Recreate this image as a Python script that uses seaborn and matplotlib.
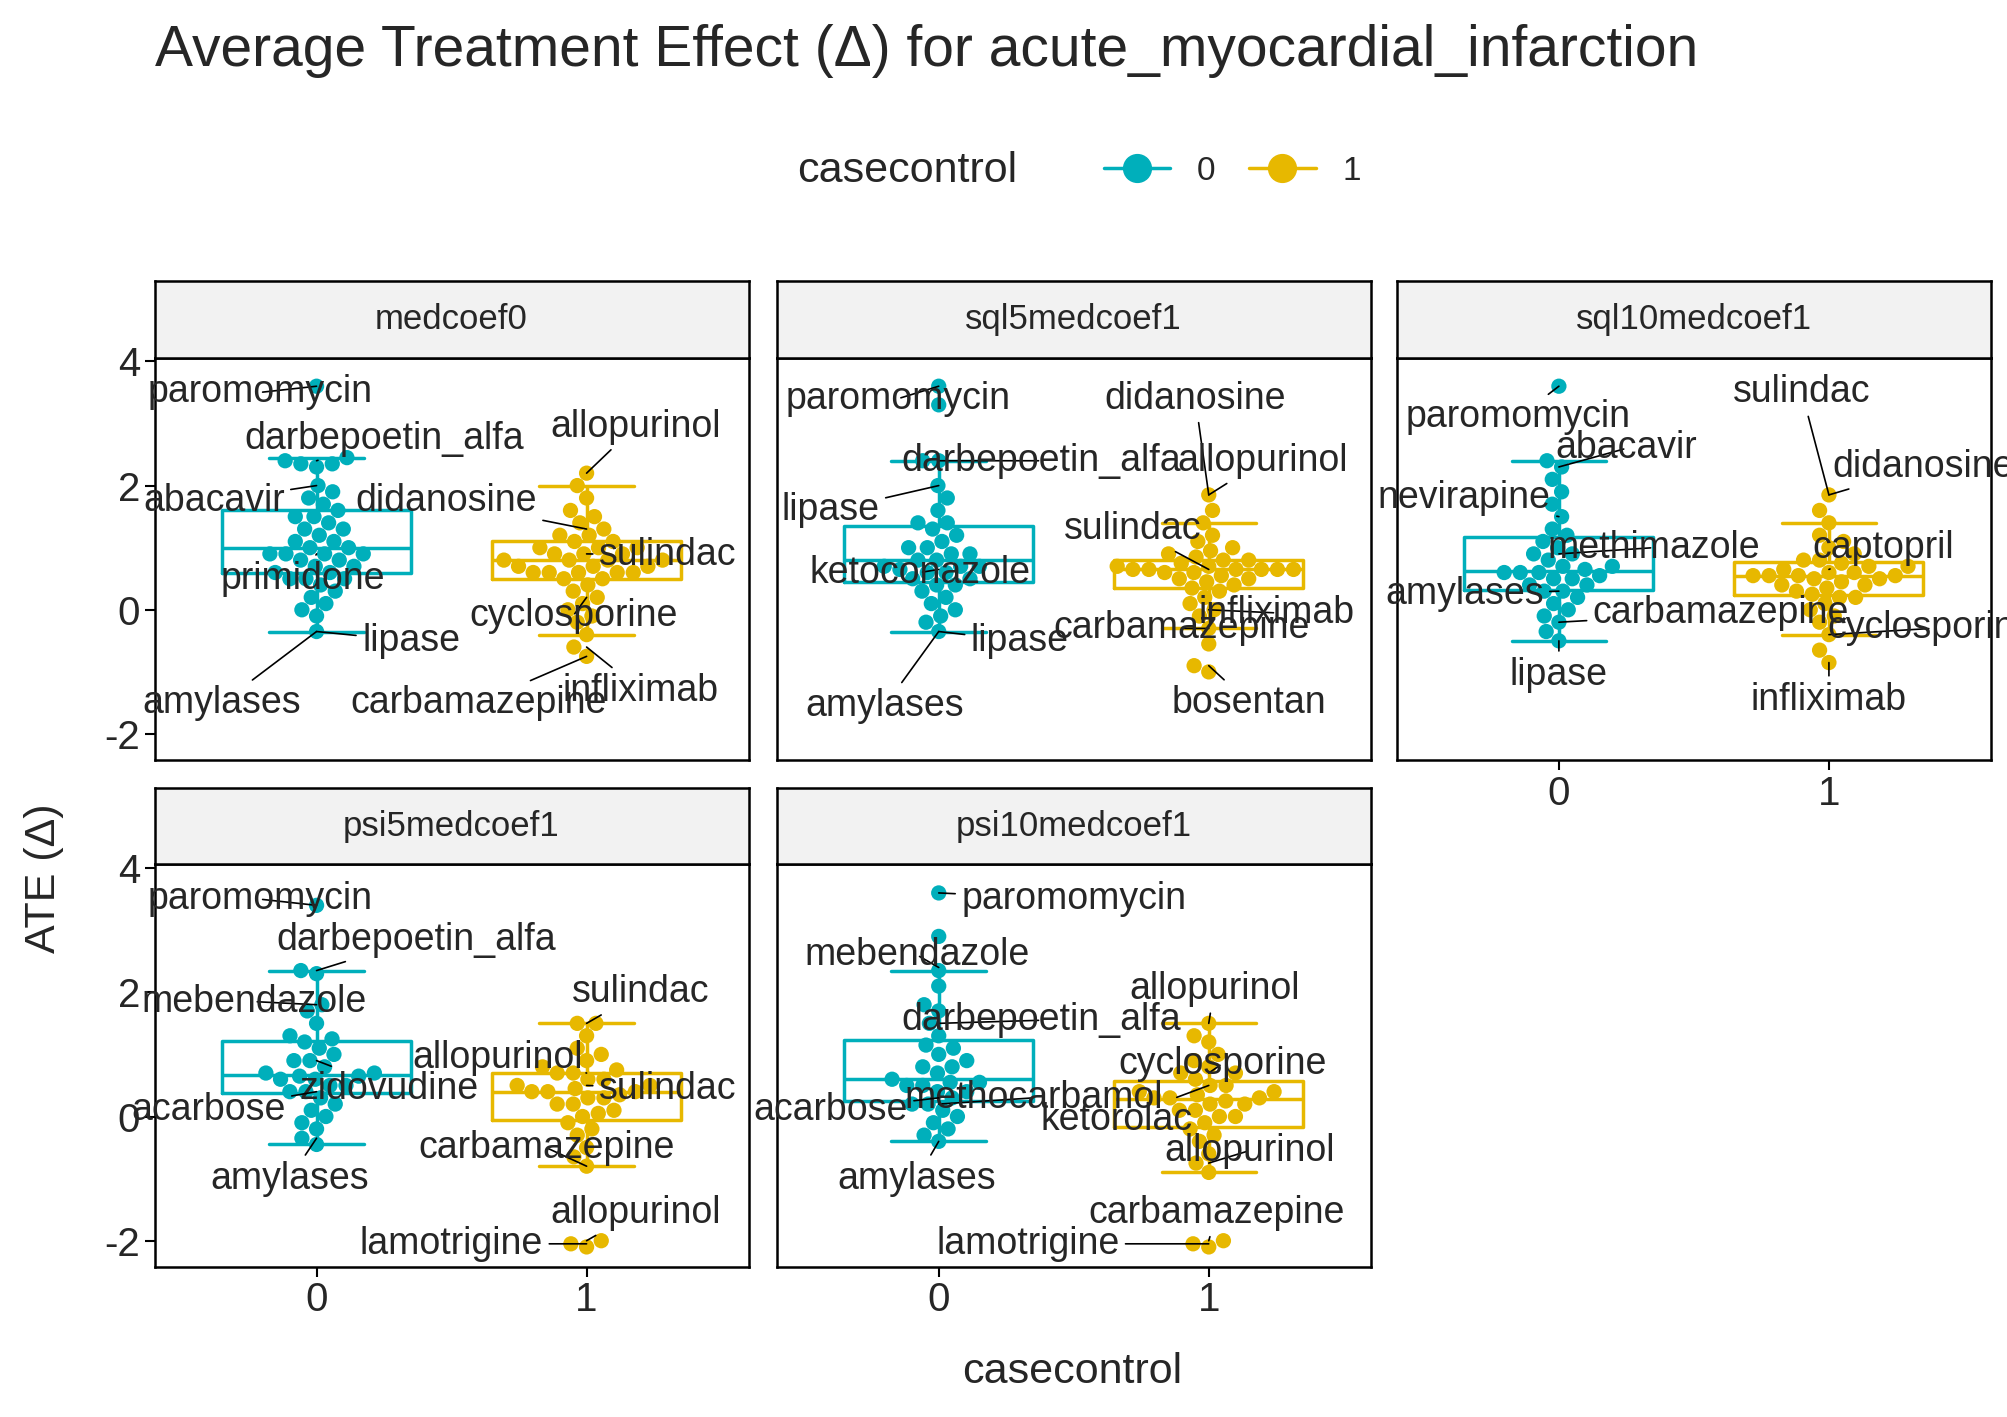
import pandas as pd
import matplotlib
matplotlib.use("Agg")
import matplotlib.pyplot as plt
import seaborn as sns
from matplotlib.lines import Line2D

sns.set_theme(style="white")
plt.rcParams['font.family'] = ['Liberation Sans', 'DejaVu Sans']
plt.rcParams['axes.unicode_minus'] = False

panels = ["medcoef0", "sql5medcoef1", "sql10medcoef1", "psi5medcoef1", "psi10medcoef1"]

# ATE values, per panel: (casecontrol 0, casecontrol 1)
m0_0 = [3.6, 2.45, 2.4, 2.35, 2.35, 2.3, 2.0, 1.9, 1.8, 1.7, 1.6, 1.5, 1.5, 1.4, 1.3, 1.3, 1.2, 1.1, 1.1, 1.0,
        1.0, 0.9, 0.9, 0.9, 0.9, 0.8, 0.8, 0.7, 0.7, 0.6, 0.6, 0.5, 0.5, 0.5, 0.4, 0.3, 0.2, 0.1, 0.0, -0.1, -0.35]
m0_1 = [2.2, 2.0, 1.8, 1.6, 1.5, 1.4, 1.3, 1.2, 1.2, 1.1, 1.1, 1.0, 1.0, 1.0, 0.9, 0.9, 0.9, 0.8, 0.8, 0.8, 0.8,
        0.7, 0.7, 0.7, 0.6, 0.6, 0.6, 0.6, 0.6, 0.5, 0.5, 0.4, 0.3, 0.2, 0.1, 0.0, -0.1, -0.2, -0.4, -0.6, -0.75]
s5_0 = [3.6, 3.3, 2.4, 2.4, 2.0, 1.8, 1.6, 1.4, 1.4, 1.3, 1.2, 1.1, 1.0, 1.0, 0.9, 0.9, 0.8, 0.8, 0.7, 0.7, 0.7,
        0.65, 0.6, 0.6, 0.5, 0.5, 0.4, 0.4, 0.3, 0.2, 0.1, 0.0, -0.1, -0.2, -0.35]
s5_1 = [1.85, 1.6, 1.4, 1.2, 1.1, 1.0, 0.95, 0.9, 0.85, 0.8, 0.8, 0.75, 0.7, 0.7, 0.65, 0.65, 0.65, 0.65, 0.65, 0.65,
        0.6, 0.6, 0.55, 0.5, 0.5, 0.45, 0.4, 0.35, 0.3, 0.2, 0.1, 0.0, -0.1, -0.3, -0.55, -0.9, -1.0]
s10_0 = [3.6, 2.4, 2.3, 2.1, 1.9, 1.7, 1.5, 1.3, 1.2, 1.1, 1.0, 0.9, 0.9, 0.8, 0.7, 0.7, 0.65, 0.6, 0.6, 0.6, 0.55,
         0.5, 0.5, 0.4, 0.4, 0.3, 0.3, 0.2, 0.1, 0.0, -0.1, -0.2, -0.35, -0.5]
s10_1 = [1.85, 1.6, 1.4, 1.2, 1.1, 1.0, 0.9, 0.8, 0.8, 0.75, 0.7, 0.7, 0.65, 0.6, 0.6, 0.55, 0.55, 0.55, 0.55, 0.5,
         0.5, 0.45, 0.4, 0.4, 0.35, 0.3, 0.25, 0.2, 0.2, 0.1, 0.0, -0.1, -0.2, -0.4, -0.65, -0.85]
p5_0 = [3.4, 2.35, 2.3, 1.8, 1.7, 1.5, 1.3, 1.25, 1.2, 1.1, 1.0, 0.9, 0.9, 0.8, 0.7, 0.7, 0.65, 0.65, 0.6, 0.6,
        0.5, 0.5, 0.4, 0.4, 0.3, 0.2, 0.1, 0.0, -0.1, -0.2, -0.35, -0.45]
p5_1 = [1.5, 1.5, 1.3, 1.1, 1.0, 0.9, 0.8, 0.75, 0.7, 0.7, 0.6, 0.6, 0.5, 0.5, 0.45, 0.4, 0.4, 0.4, 0.35, 0.3, 0.3,
        0.2, 0.2, 0.1, 0.05, 0.0, -0.1, -0.2, -0.3, -0.5, -0.65, -0.8, -2.0, -2.05, -2.1]
p10_0 = [3.6, 2.9, 2.35, 2.1, 1.8, 1.7, 1.5, 1.3, 1.15, 1.1, 1.0, 0.9, 0.8, 0.8, 0.7, 0.6, 0.55, 0.55, 0.5, 0.5,
         0.4, 0.4, 0.3, 0.2, 0.2, 0.1, 0.0, -0.1, -0.2, -0.3, -0.4]
p10_1 = [1.5, 1.3, 1.2, 1.0, 0.9, 0.8, 0.7, 0.7, 0.6, 0.5, 0.5, 0.4, 0.4, 0.35, 0.3, 0.3, 0.3, 0.25, 0.2, 0.2, 0.1,
         0.1, 0.0, 0.0, -0.1, -0.2, -0.3, -0.4, -0.6, -0.75, -0.9, -2.0, -2.05, -2.1]
values = [(m0_0, m0_1), (s5_0, s5_1), (s10_0, s10_1), (p5_0, p5_1), (p10_0, p10_1)]

# labels: (drug, group, value of labelled point, text x, text y)
labels = [
    [("paromomycin", 0, 3.6, -0.21, 3.5), ("darbepoetin_alfa", 0, 2.4, 0.25, 2.75), ("allopurinol", 1, 2.2, 1.18, 2.95),
     ("abacavir", 0, 2.0, -0.38, 1.75), ("didanosine", 1, 1.3, 0.48, 1.75), ("sulindac", 1, 0.9, 1.3, 0.88),
     ("primidone", 0, 0.9, -0.05, 0.5), ("cyclosporine", 1, 0.2, 0.95, -0.1), ("lipase", 0, -0.35, 0.35, -0.5),
     ("amylases", 0, -0.35, -0.35, -1.5), ("carbamazepine", 1, -0.75, 0.6, -1.5), ("infliximab", 1, -0.6, 1.2, -1.3)],
    [("paromomycin", 0, 3.6, -0.15, 3.4), ("didanosine", 1, 1.85, 0.95, 3.4), ("darbepoetin_alfa", 0, 2.4, 0.38, 2.4),
     ("allopurinol", 1, 1.85, 1.2, 2.4), ("lipase", 0, 2.0, -0.4, 1.6), ("sulindac", 1, 0.65, 0.72, 1.3),
     ("ketoconazole", 0, 0.65, -0.07, 0.6), ("infliximab", 1, 0.0, 1.25, -0.05), ("carbamazepine", 1, -0.3, 0.9, -0.3),
     ("lipase", 0, -0.35, 0.3, -0.5), ("amylases", 0, -0.35, -0.2, -1.55), ("bosentan", 1, -0.9, 1.15, -1.5)],
    [("paromomycin", 0, 3.6, -0.15, 3.1), ("sulindac", 1, 1.85, 0.9, 3.5), ("abacavir", 0, 2.3, 0.25, 2.6),
     ("didanosine", 1, 1.85, 1.35, 2.3), ("nevirapine", 0, 1.5, -0.35, 1.8), ("methimazole", 0, 0.9, 0.35, 1.0),
     ("captopril", 1, 0.65, 1.2, 1.0), ("amylases", 0, 0.3, -0.35, 0.25), ("carbamazepine", 0, -0.2, 0.6, -0.05),
     ("cyclosporine", 1, -0.4, 1.38, -0.3), ("lipase", 0, -0.5, 0.0, -1.05), ("infliximab", 1, -0.85, 1.0, -1.45)],
    [("paromomycin", 0, 3.4, -0.21, 3.5), ("darbepoetin_alfa", 0, 2.35, 0.37, 2.85), ("mebendazole", 0, 1.8, -0.23, 1.85),
     ("sulindac", 1, 1.5, 1.2, 2.0), ("allopurinol", 1, 0.7, 0.67, 0.95), ("zidovudine", 0, 0.9, 0.27, 0.45),
     ("sulindac", 1, 0.5, 1.3, 0.45), ("acarbose", 0, 0.4, -0.4, 0.1), ("carbamazepine", 1, -0.8, 0.85, -0.5),
     ("amylases", 0, -0.35, -0.1, -1.0), ("allopurinol", 1, -2.0, 1.18, -1.55), ("lamotrigine", 1, -2.05, 0.5, -2.05)],
    [("paromomycin", 0, 3.6, 0.5, 3.5), ("mebendazole", 0, 2.4, -0.08, 2.6), ("allopurinol", 1, 1.5, 1.02, 2.05),
     ("darbepoetin_alfa", 0, 1.5, 0.38, 1.55), ("cyclosporine", 1, 0.7, 1.05, 0.85), ("methocarbamol", 0, 0.2, 0.35, 0.3),
     ("acarbose", 0, 0.3, -0.4, 0.1), ("ketorolac", 1, 0.5, 0.66, -0.05), ("allopurinol", 1, -0.75, 1.15, -0.55),
     ("amylases", 0, -0.4, -0.08, -1.0), ("carbamazepine", 1, -2.0, 1.03, -1.55), ("lamotrigine", 1, -2.05, 0.33, -2.05)],
]

colors = {"0": "#00AFBB", "1": "#E7B800"}

fig = plt.figure(figsize=(20.07, 14.17), dpi=100)
col_x = [0.077, 0.387, 0.696]
pw = 0.296
rows = [(0.4636, 0.284), (0.106, 0.284)]
strip_h = 0.054

for i, name in enumerate(panels):
    r, c = divmod(i, 3)
    y0, ph = rows[r]
    ax = fig.add_axes([col_x[c], y0, pw, ph])
    g0, g1 = values[i]
    df = pd.DataFrame({"casecontrol": ["0"] * len(g0) + ["1"] * len(g1), "ATE": g0 + g1})
    sns.boxplot(data=df, x="casecontrol", y="ATE", hue="casecontrol", palette=colors, fill=False,
                showfliers=False, width=0.7, linewidth=2.5, legend=False, ax=ax, order=["0", "1"])
    for p in ax.patches:
        p.set_fill(True)
        p.set_facecolor("#FFFFE0")
    sns.swarmplot(data=df, x="casecontrol", y="ATE", hue="casecontrol", palette=colors, size=11,
                  legend=False, ax=ax, order=["0", "1"], zorder=3)
    for drug, grp, val, tx, ty in labels[i]:
        ax.annotate(drug, xy=(grp, val), xytext=(tx, ty), ha="center", va="center", fontsize=27,
                    arrowprops=dict(arrowstyle="-", color="black", lw=1.2, shrinkA=2, shrinkB=0), zorder=5)
    ax.set_xlim(-0.6, 1.6)
    ax.set_ylim(-2.42, 4.06)
    ax.set_yticks([-2, 0, 2, 4])
    ax.set_xlabel("")
    ax.set_ylabel("")
    for s in ax.spines.values():
        s.set_color("black")
        s.set_linewidth(1.8)
    ax.tick_params(axis="both", labelsize=29, length=7, width=1.5, color="black", left=True, bottom=True)
    if c != 0:
        ax.set_yticklabels([])
        ax.tick_params(axis="y", left=False)
    if not (r == 1 or c == 2):
        ax.set_xticklabels([])
        ax.tick_params(axis="x", bottom=False)
    sax = fig.add_axes([col_x[c], y0 + ph, pw, strip_h])
    sax.set_facecolor("#F2F2F2")
    sax.set_xticks([])
    sax.set_yticks([])
    for s in sax.spines.values():
        s.set_color("black")
        s.set_linewidth(1.8)
    sax.text(0.5, 0.5, name, ha="center", va="center", fontsize=25, transform=sax.transAxes)

fig.text(0.077, 0.964, "Average Treatment Effect (\u0394) for acute_myocardial_infarction", fontsize=41, va="center")
fig.text(0.012, 0.38, "ATE (\u0394)", rotation=90, fontsize=31, va="center")
fig.text(0.534, 0.032, "casecontrol", fontsize=31, ha="center", va="center")

handles = [Line2D([0], [0], color=colors[k], marker="o", markersize=20, lw=2.5, label=k) for k in ["0", "1"]]
fig.legend(handles=handles, loc="center left", bbox_to_anchor=(0.535, 0.879), ncol=2, frameon=False,
           fontsize=24, handlelength=2.0, columnspacing=1.0)
fig.text(0.397, 0.879, "casecontrol", fontsize=31, va="center")

fig.savefig("out.png", dpi=100)
